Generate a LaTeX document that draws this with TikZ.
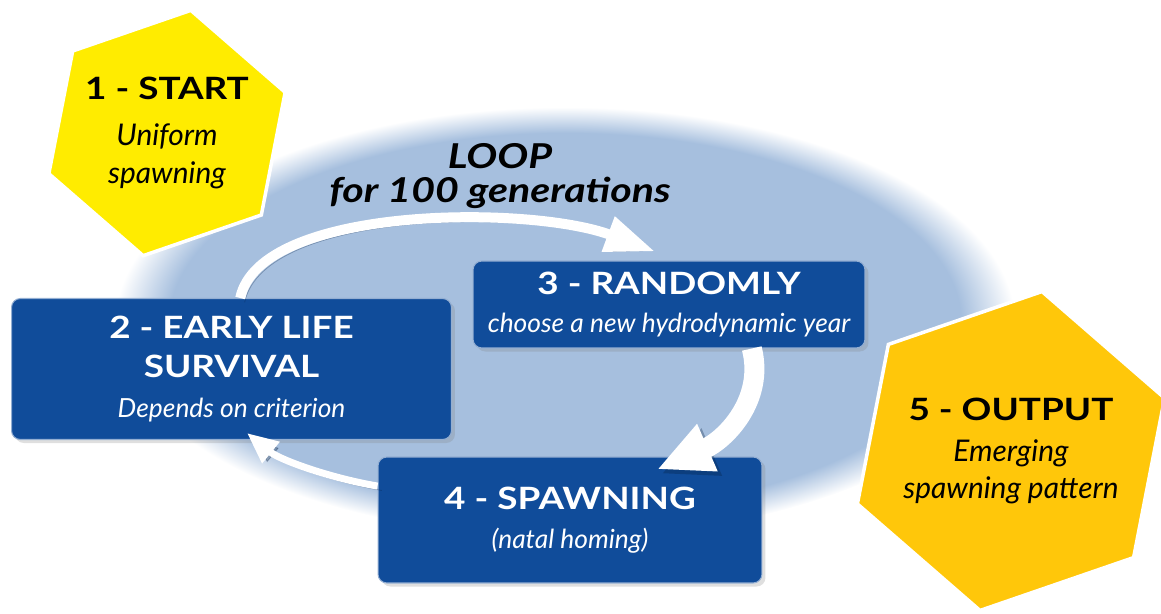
\documentclass[tikz,border=0pt]{standalone}
\usepackage{fontspec}
\setmainfont{Lato}
\newfontfamily\headfont{Lato}[FakeStretch=1.2]
\usetikzlibrary{arrows.meta,positioning,shapes.geometric,shadows}
\definecolor{loopblue}{RGB}{166,191,222}
\definecolor{stepblue}{RGB}{16,76,154}
\definecolor{startyellow}{RGB}{255,236,0}
\definecolor{outyellow}{RGB}{255,199,10}
\pgfdeclareradialshading{loopshade}{\pgfpoint{0bp}{0bp}}{color(0bp)=(loopblue); color(22bp)=(loopblue); color(25bp)=(white); color(50bp)=(white)}
\newcommand{\stephead}[1]{{\headfont\bfseries #1}}
\newcommand{\stepnote}[1]{{\fontsize{15}{22}\selectfont\itshape #1}}
\newcommand{\hexnote}[1]{{\fontsize{17}{22}\selectfont\itshape #1}}

\begin{document}
\begin{tikzpicture}[
    x=0.02cm, y=-0.02cm,
    font=\fontsize{17.5}{22}\selectfont,
    stepbox/.style={fill=stepblue, draw=stepblue!45!white, line width=0.6pt, rounded corners=5pt, text=white, align=center, inner sep=0pt, drop shadow={opacity=0.25, shadow xshift=2pt, shadow yshift=-2pt}},
    hexbox/.style={regular polygon, regular polygon sides=6, shape border rotate=19, draw=white, line width=2pt, inner sep=0pt},
    hextext/.style={align=center, font=\fontsize{17.5}{22}\selectfont},
    loopline/.style={draw=white, line cap=butt, preaction={draw=stepblue!40!black, opacity=0.3, transform canvas={xshift=2.5pt, yshift=-2.5pt}}}
  ]
  \useasboundingbox (0,0) rectangle (1161,613);
  % background of the loop
  \shade[shading=loopshade] (565,322) ellipse [x radius=9cm, y radius=4.3cm];

  \node[hexbox, fill=startyellow, minimum size=5cm, label={[hextext]center:\stephead{1 - START}\\[4pt]\hexnote{Uniform}\\\hexnote{spawning}}] (start) at (167,133) {};
  \node[hexbox, fill=outyellow, minimum size=6.5cm, label={[hextext]center:\stephead{5 - OUTPUT}\\[1pt]\hexnote{Emerging}\\[-1pt]\hexnote{spawning pattern}}] (output) at (1011,451) {};

  \node[font=\fontsize{19.5}{19}\selectfont\headfont\bfseries\itshape, align=center] (looptitle) at (500,176) {LOOP\\for 100 generations};

  \node[stepbox, minimum width=8.8cm, minimum height=2.82cm] (early) at (231.5,369) {\stephead{2 - EARLY LIFE}\\\stephead{SURVIVAL}\\[1pt]\stepnote{Depends on criterion}};
  \node[stepbox, minimum width=7.84cm, minimum height=1.74cm] (random) at (669,304.5) {\stephead{3 - RANDOMLY}\\\stepnote{choose a new hydrodynamic year}};
  \node[stepbox, minimum width=7.68cm, minimum height=2.52cm] (spawn) at (570,520) {\stephead{4 - SPAWNING}\\\stepnote{(natal homing)}};

  % the loop arrows
  \draw[loopline, line width=0.2cm, -{Triangle[length=1cm, width=0.7cm]}] (early.83) .. controls (260,205) and (530,205) .. ([xshift=-0.28cm, yshift=0.18cm]random.north);
  \draw[loopline, line width=0.4cm, -{Triangle[length=1.1cm, width=0.95cm]}] (random.-28) .. controls (765,400) and (725,440) .. ([xshift=1.74cm, yshift=-0.26cm]spawn.north);
  \draw[loopline, line width=0.14cm, -{Triangle[length=0.62cm, width=0.52cm]}] (spawn.170.5) .. controls (330,478) and (280,460) .. ([xshift=0.31cm, yshift=0.14cm]early.south);
\end{tikzpicture}
\end{document}
